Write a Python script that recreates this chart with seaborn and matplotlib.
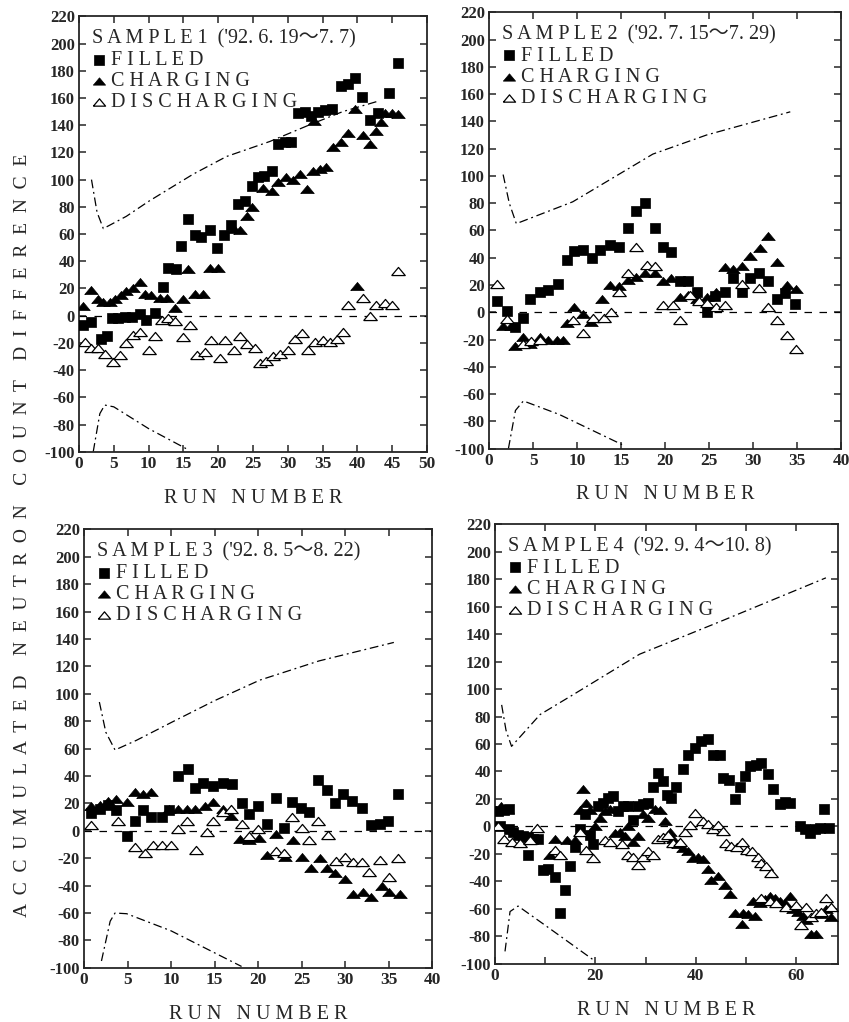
import matplotlib
matplotlib.use("Agg")
import matplotlib.pyplot as plt
import seaborn as sns

# ---- data (run number, count difference) ----
# Sample 1
p1_fill_x = [0.6, 1.8, 3.2, 4.0, 4.7, 5.6, 6.6, 7.6, 8.8, 9.7, 10.9, 12.1, 12.8, 13.9, 14.7,
             15.7, 16.7, 17.6, 18.8, 19.8, 20.9, 21.9, 22.9, 23.8, 24.8, 25.7, 26.6, 27.7, 28.6,
             29.6, 30.5, 31.5, 32.4, 33.4, 34.4, 35.3, 36.3, 37.7, 38.7, 39.6, 40.6, 41.8, 43.0,
             44.6, 45.8]
p1_fill_y = [-7, -5, -17, -15, -2, -2, -1, -1, 1, -3, 2, 21, 35, 34, 51, 71, 59, 58, 63, 50,
             59, 67, 82, 84, 95, 102, 103, 106, 126, 128, 128, 149, 150, 147, 150, 151, 152, 169,
             170, 175, 161, 144, 149, 164, 186]
p1_chg_x = [0.6, 1.8, 2.8, 3.5, 4.4, 5.2, 6.1, 6.8, 7.8, 8.8, 9.5, 10.4, 11.6, 12.6, 13.8,
            14.9, 15.7, 16.7, 17.8, 18.8, 20.0, 22.2, 23.1, 24.1, 24.9, 26.5, 27.7, 28.6, 29.8,
            30.8, 31.7, 32.7, 33.6, 33.8, 34.6, 35.5, 36.5, 37.7, 38.7, 39.6, 39.9, 40.8, 41.8,
            42.7, 43.4, 43.9, 44.9, 45.8]
p1_chg_y = [7, 19, 12, 10, 10, 12, 15, 18, 20, 25, 16, 15, 13, 13, 6, 12, 34, 16, 16, 35, 35,
            64, 63, 73, 80, 94, 92, 98, 102, 100, 104, 93, 106, 143, 108, 109, 124, 128, 134,
            152, 22, 133, 126, 136, 142, 149, 149, 148]
p1_dis_x = [0.9, 1.8, 2.8, 3.7, 4.9, 5.9, 6.8, 7.7, 8.8, 10.0, 10.9, 11.9, 12.8, 13.8, 15.0,
            15.9, 16.9, 18.1, 19.0, 20.2, 21.0, 22.2, 23.1, 24.1, 25.3, 26.0, 26.9, 27.9, 28.9,
            30.0, 31.0, 32.0, 32.9, 33.9, 35.1, 36.0, 37.0, 37.9, 38.7, 40.8, 41.8, 42.7, 43.9,
            44.9, 45.8]
p1_dis_y = [-19, -24, -24, -28, -34, -29, -20, -14, -12, -25, -15, -3, -2, -4, -16, -7, -29,
            -27, -18, -31, -18, -25, -15, -21, -24, -35, -33, -30, -28, -25, -17, -13, -25, -19,
            -18, -19, -17, -12, 8, 13, 0, 8, 9, 8, 33]
p1_up_x = [1.8, 2.6, 3.5, 6.8, 10.0, 16.4, 21.2, 27.4, 33.0, 37.9, 43.2]
p1_up_y = [100, 76, 64, 73, 84, 104, 117, 128, 140, 150, 158]
p1_lo_x = [2.05, 3.0, 3.7, 5.0, 10.0, 15.5]
p1_lo_y = [-100, -72, -65.7, -67, -83, -98]

# Sample 2
p2_fill_x = [0.9, 2.0, 2.9, 3.9, 4.7, 5.8, 6.7, 7.8, 8.8, 9.7, 10.7, 11.7, 12.6, 13.7, 14.8,
             15.8, 16.7, 17.7, 18.8, 19.8, 20.7, 21.7, 22.6, 23.6, 24.7, 25.6, 26.8, 27.7, 28.7,
             29.6, 30.6, 31.7, 32.7, 33.6, 34.7]
p2_fill_y = [8, 1, -11, -4, 10, 15, 16, 21, 38, 45, 46, 40, 46, 49, 48, 62, 74, 80, 62, 48, 44,
             23, 23, 15, 0, 12, 15, 25, 15, 25, 29, 23, 10, 14, 6]
p2_chg_x = [1.6, 2.5, 2.9, 3.9, 4.6, 5.8, 6.7, 7.7, 8.4, 8.8, 9.7, 10.7, 11.6, 12.8, 13.7,
            14.8, 15.8, 16.7, 17.7, 18.8, 19.8, 20.7, 21.7, 22.6, 23.6, 24.7, 25.8, 26.8, 27.7,
            28.7, 29.6, 30.8, 31.7, 32.7, 33.8, 34.9]
p2_chg_y = [-10, -10, -25, -18, -23, -18, -20, -20, -20, -8, 4, -1, -7, 10, 20, 19, 24, 26, 29,
            29, 23, 25, 11, 13, 10, 11, 15, 33, 32, 34, 41, 47, 56, 37, 20, 17]
p2_dis_x = [0.9, 2.0, 3.9, 4.8, 5.8, 9.5, 10.7, 11.8, 13.0, 13.9, 14.8, 15.8, 16.7, 17.9, 18.8,
            19.8, 20.9, 21.7, 22.8, 23.8, 24.7, 25.8, 26.8, 28.7, 30.6, 31.7, 32.7, 33.8, 34.9]
p2_dis_y = [21, -5, -23, -21, -20, -6, -15, -4, -4, 0, 15, 29, 48, 35, 34, 5, 5, -6, 13, 8, 7,
            4, 5, 21, 18, 4, -6, -17, -27]
p2_up_x = [1.6, 2.3, 3.1, 9.5, 18.6, 24.7, 34.2]
p2_up_y = [101, 80, 65, 81, 116, 130, 147]
p2_lo_x = [2.2, 3.0, 3.9, 8.0, 15.1]
p2_lo_y = [-100, -72, -65, -75, -97]

# Sample 3
p3_fill_x = [0.8, 1.8, 2.8, 3.7, 4.9, 5.8, 6.8, 7.7, 8.9, 9.8, 10.8, 12.0, 12.7, 13.7, 14.8,
             16.0, 17.0, 18.1, 19.0, 20.0, 21.0, 22.0, 23.0, 23.9, 24.9, 25.9, 26.9, 27.9, 28.8,
             29.8, 30.8, 31.9, 33.0, 34.0, 34.9, 36.1]
p3_fill_y = [13, 16, 19, 15, -4, 7, 15, 10, 10, 15, 40, 45, 31, 35, 33, 35, 34, 20, 12, 18, 5,
             24, 2, 21, 17, 14, 37, 30, 20, 27, 22, 17, 4, 5, 7, 27]
p3_chg_x = [0.8, 1.8, 2.8, 3.7, 4.9, 5.8, 6.8, 7.7, 9.8, 10.8, 11.8, 12.7, 13.9, 14.8, 16.0,
            16.9, 17.9, 19.0, 20.1, 21.0, 22.0, 23.1, 24.0, 25.0, 26.1, 27.1, 27.9, 28.8, 30.0,
            30.9, 32.1, 33.0, 34.2, 35.1, 36.3]
p3_chg_y = [18, 19, 22, 23, 21, 28, 27, 28, 16, 16, 16, 16, 18, 21, 16, 11, -6, -7, -5, -18,
            -2, -19, -7, -19, -27, -20, -27, -31, -35, -46, -45, -48, -40, -45, -46]
p3_dis_x = [0.8, 3.9, 5.8, 7.0, 7.9, 8.9, 10.0, 10.8, 11.8, 12.9, 14.1, 14.8, 16.0, 16.9, 18.1,
            19.0, 20.0, 22.0, 23.0, 23.9, 25.0, 25.9, 26.9, 28.0, 29.0, 30.0, 30.9, 31.9, 32.8,
            34.0, 35.1, 36.1]
p3_dis_y = [4, 7, -12, -16, -10, -10, -10, 1, 7, -14, -1, 7, 14, 16, 5, -4, 1, -15, -16, 10, 2,
            -7, 7, -3, -22, -19, -23, -23, -30, -21, -34, -20]
p3_up_x = [1.76, 2.5, 3.56, 6.0, 10.0, 15.0, 20.2, 27.0, 35.6]
p3_up_y = [94, 72, 59, 66, 79, 95, 110, 124, 137.5]
p3_lo_x = [2.0, 3.0, 3.56, 4.9, 10.0, 18.1]
p3_lo_y = [-95, -66, -60, -60.5, -73, -99]

# Sample 4
p4_fill_x = [0.7, 1.7, 2.7, 1.0, 2.7, 3.6, 4.6, 5.6, 6.6, 6.6, 7.6, 8.6, 9.6, 10.6, 11.9, 12.9,
             13.9, 14.9, 15.9, 16.9, 17.9, 18.9, 19.6, 20.6, 21.6, 22.5, 23.5, 24.5, 25.5, 26.5,
             27.5, 28.5, 29.5, 30.5, 31.5, 32.5, 33.5, 34.2, 35.1, 36.1, 37.5, 38.5, 39.8, 41.1,
             42.4, 43.4, 44.8, 45.4, 46.7, 47.7, 48.7, 49.7, 50.7, 52.0, 53.0, 54.4, 55.4, 56.7,
             57.7, 58.7, 60.7, 61.7, 62.7, 63.7, 64.7, 65.6, 66.6]
p4_fill_y = [11, 12, 13, 0, -2, -4, -6, -7, -21, -8, -9, -9, -32, -31, -37, -63, -46, -29, -15,
             -2, 9, -6, -13, 15, 17, 21, 22, 11, 15, 15, 5, 15, 16, 17, 29, 39, 33, 23, 21, 29,
             42, 52, 57, 62, 64, 52, 52, 35, 34, 20, 29, 37, 44, 45, 46, 38, 27, 16, 18, 17, 0,
             -2, -5, -2, -1, 13, -1]
p4_chg_x = [0.3, 1.3, 2.3, 10.9, 11.9, 12.9, 14.3, 15.9, 16.9, 17.6, 18.2, 18.9, 19.9, 20.9,
            21.9, 22.9, 23.9, 24.9, 25.9, 26.5, 27.5, 28.5, 29.5, 30.5, 31.8, 32.8, 33.8, 34.8,
            35.5, 36.5, 37.5, 38.5, 39.5, 40.5, 41.4, 42.4, 43.1, 44.4, 45.8, 46.8, 47.7, 49.1,
            49.4, 50.4, 51.4, 51.7, 52.7, 53.7, 54.7, 55.7, 56.7, 57.7, 58.7, 59.4, 60.3, 61.3,
            62.0, 63.0, 64.0, 65.0, 66.0, 67.0]
p4_chg_y = [12, 15, 13, -21, -9, -21, -10, -10, 12, 27, 17, 12, 0, 6, 11, 13, -5, -4, -7, 0,
            -11, -7, 9, 6, 13, 12, 4, -4, -9, -13, -16, -18, -23, -22, -24, -31, -39, -36, -43,
            -49, -63, -71, -63, -64, -54, -65, -56, -53, -51, -52, -54, -56, -51, -60, -62, -65,
            -68, -78, -78, -64, -60, -66]
p4_dis_x = [0.7, 1.7, 3.3, 5.0, 7.0, 8.3, 11.9, 12.9, 16.9, 18.2, 19.6, 21.9, 22.9, 25.2, 26.5,
            27.5, 28.5, 29.5, 30.5, 31.5, 32.5, 33.5, 34.5, 35.5, 36.8, 37.8, 38.8, 39.8, 41.4,
            42.4, 43.4, 44.4, 45.4, 46.1, 47.1, 48.1, 49.1, 50.1, 51.1, 52.4, 53.0, 54.0, 55.0,
            53.0, 54.7, 56.0, 58.0, 60.0, 61.0, 62.0, 63.0, 64.0, 65.0, 66.0, 67.0]
p4_dis_y = [0, -9, -11, -12, -10, -1, -17, -21, -4, -17, -23, -10, -11, -13, -21, -22, -28, -22,
            -18, -21, -9, -8, -6, -12, -11, -4, 1, 10, 4, 2, -2, 1, -3, -12, -14, -15, -11, -17,
            -18, -22, -27, -29, -34, -52, -54, -56, -59, -57, -72, -59, -66, -63, -62, -52, -59]
p4_up_x = [1.33, 2.2, 3.3, 9.0, 15.6, 28.8, 45.4, 65.9]
p4_up_y = [88.5, 70, 58.3, 81.5, 96, 125.4, 150, 181]
p4_lo_x = [2.0, 3.0, 4.6, 10.0, 19.9]
p4_lo_y = [-91, -62, -58, -72, -98]

titles = ["S A M P L E 1  ('92. 6. 19～7. 7)",
          "S A M P L E 2  ('92. 7. 15～7. 29)",
          "S A M P L E 3  ('92. 8. 5～8. 22)",
          "S A M P L E 4  ('92. 9. 4～10. 8)"]
labels = ["F I L L E D", "C H A R G I N G", "D I S C H A R G I N G"]

sns.set_style("ticks")
plt.rcParams['font.family'] = ['Liberation Serif', 'Noto Sans CJK JP']

fig = plt.figure(figsize=(8.49, 10.22), dpi=100)
boxes = [[0.093, 0.558, 0.410, 0.426],
         [0.576, 0.561, 0.415, 0.427],
         [0.099, 0.053, 0.410, 0.429],
         [0.583, 0.057, 0.404, 0.430]]

panels = [
    (p1_fill_x, p1_fill_y, p1_chg_x, p1_chg_y, p1_dis_x, p1_dis_y,
     p1_up_x, p1_up_y, p1_lo_x, p1_lo_y, 50),
    (p2_fill_x, p2_fill_y, p2_chg_x, p2_chg_y, p2_dis_x, p2_dis_y,
     p2_up_x, p2_up_y, p2_lo_x, p2_lo_y, 40),
    (p3_fill_x, p3_fill_y, p3_chg_x, p3_chg_y, p3_dis_x, p3_dis_y,
     p3_up_x, p3_up_y, p3_lo_x, p3_lo_y, 40),
    (p4_fill_x, p4_fill_y, p4_chg_x, p4_chg_y, p4_dis_x, p4_dis_y,
     p4_up_x, p4_up_y, p4_lo_x, p4_lo_y, 68.3),
]

# flat triangle like the printed symbols
tri = [(-1.0, -0.6), (1.0, -0.6), (0.0, 0.6), (-1.0, -0.6)]
dashdot = (0, (7, 3, 1.5, 3))
yt = list(range(-100, 221, 20))

for i, (fx, fy, cx, cy, dx, dy, ux, uy, lx, ly, xmax) in enumerate(panels):
    ax = fig.add_axes(boxes[i])

    # control limit curves and zero line
    ax.axhline(0, color='black', lw=0.9, ls=(0, (6, 6)), zorder=1)
    sns.lineplot(x=ux, y=uy, ax=ax, color='black', lw=0.9, linestyle=dashdot,
                 estimator=None, sort=False)
    sns.lineplot(x=lx, y=ly, ax=ax, color='black', lw=0.9, linestyle=dashdot,
                 estimator=None, sort=False)

    h1 = sns.scatterplot(x=fx, y=fy, ax=ax, marker='s', s=62, color='black',
                         edgecolor='black', linewidth=0.5, zorder=3).collections[-1]
    h2 = sns.scatterplot(x=cx, y=cy, ax=ax, marker=tri, s=95, color='black',
                         edgecolor='black', linewidth=0.5, zorder=3).collections[-1]
    h3 = sns.scatterplot(x=dx, y=dy, ax=ax, marker=tri, s=95, facecolor='white',
                         edgecolor='black', linewidth=0.9, zorder=4).collections[-1]

    ax.set_xlim(0, xmax)
    ax.set_ylim(-100, 220)
    ax.set_yticks(yt, [str(v) for v in yt], fontweight='bold', fontsize=12)
    if i == 3:
        ax.set_xticks(range(0, 61, 10), ['0', '', '20', '', '40', '', '60'],
                      fontweight='bold', fontsize=12.5)
    else:
        xt = list(range(0, int(xmax) + 1, 5))
        ax.set_xticks(xt, [str(v) for v in xt], fontweight='bold', fontsize=12.5)
    ax.tick_params(direction='in', top=True, right=True, length=5, width=1.1, pad=3)
    for sp in ax.spines.values():
        sp.set_linewidth(1.3)
        sp.set_visible(True)

    ax.set_xlabel("R U N   N U M B E R", fontsize=14.5, labelpad=12)
    ax.set_ylabel("")

    ax.legend([h1, h2, h3], labels, loc='upper left', title=titles[i],
              alignment='left', frameon=False, fontsize=14.5,
              title_fontproperties={'size': 14.5}, handletextpad=0.25,
              handlelength=0.7, labelspacing=0.1, borderaxespad=0.45,
              borderpad=0.2, markerscale=0.9)

ylab = "    ".join("  ".join(w) for w in
                   ["ACCUMULATED", "NEUTRON", "COUNT", "DIFFERENCE"])
fig.text(0.026, 0.4765, ylab, rotation=90, ha='center', va='center', fontsize=14)

plt.savefig('out.png', dpi=100)
